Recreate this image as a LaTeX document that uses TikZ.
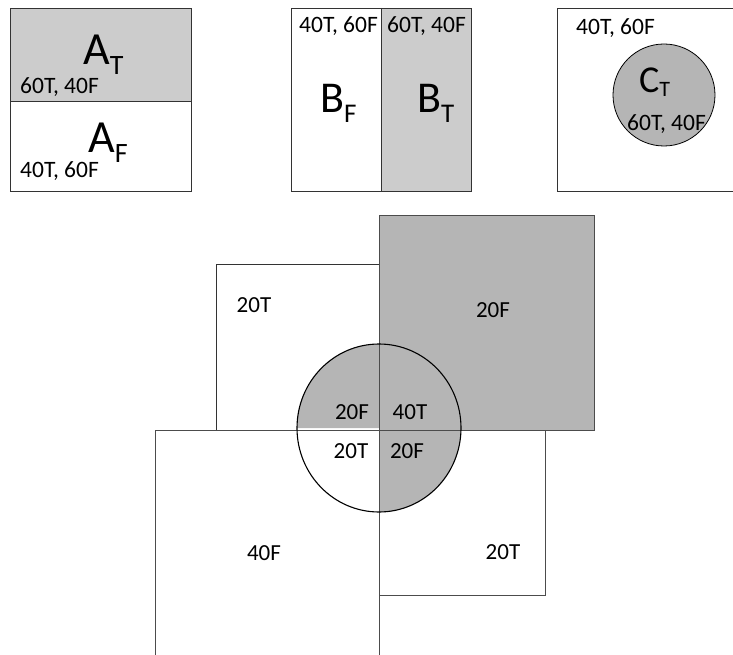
\documentclass[tikz,border=0pt]{standalone}
\usepackage{fontspec}
\setmainfont{Carlito}
\definecolor{lightshade}{HTML}{CCCCCC}
\definecolor{darkshade}{HTML}{B5B5B5}
\definecolor{edge}{HTML}{333333}
\tikzset{
  box/.style={draw=edge, line width=0.9pt},
  counts/.style={inner sep=0pt, font=\fontsize{23.5}{23.5}\selectfont},
  cell/.style={inner sep=0pt, font=\fontsize{23}{23}\selectfont},
  big/.style={inner sep=0pt, anchor=base west},
  ring/.style={draw=black, line width=1.1pt}
}
\newcommand{\varlab}[4]{{\fontsize{#1}{#1}\selectfont #3\raisebox{-#4pt}{\fontsize{#2}{#2}\selectfont T}}}
\newcommand{\varlabF}[4]{{\fontsize{#1}{#1}\selectfont #3\raisebox{-#4pt}{\fontsize{#2}{#2}\selectfont F}}}
\begin{document}
\begin{tikzpicture}[x=1pt,y=-1pt]
\useasboundingbox (0,0) rectangle (733,655);
\clip (0,0) rectangle (733,655);

% ---- variable A: split horizontally ----
\fill[lightshade] (10,8) rectangle (191,101);
\draw[box] (10,8) rectangle (191,191);
\draw[box] (10,101) -- (191,101);
\node[big] (at) at (83,65) {\varlab{46}{28}{A}{10}};
\node[counts, anchor=base west] (atc) at (20,94) {60T, 40F};
\node[big] (af) at (88,153) {\varlabF{46}{28}{A}{10}};
\node[counts, anchor=base west] (afc) at (20,178) {40T, 60F};

% ---- variable B: split vertically ----
\fill[lightshade] (381,8) rectangle (471,191);
\draw[box] (291,8) rectangle (471,191);
\draw[box] (381,8) -- (381,191);
\node[counts, anchor=base west] (bfc) at (299,33) {40T, 60F};
\node[counts, anchor=base west] (btc) at (387,33) {60T, 40F};
\node[big] (bf) at (320,113) {\varlabF{44}{27}{B}{10}};
\node[big] (bt) at (417,113) {\varlab{44}{27}{B}{10}};

% ---- variable C: disc inside a square ----
\draw[box] (557,8) rectangle (760,191);
\fill[darkshade, draw=black, line width=0.8pt] (664,95) circle (51);
\node[counts, anchor=base west] (cfc) at (576,35) {40T, 60F};
\node[big] (ct) at (639,93) {\varlab{38}{22}{C}{4}};
\node[counts, anchor=base west] (ctc) at (627,131) {60T, 40F};

% ---- combined diagram ----
\fill[darkshade] (379,215) rectangle (594,430);
% disc: upper half and lower-right quarter shaded (y axis points down)
\fill[darkshade] (297,428) arc[start angle=180, end angle=360, x radius=82, y radius=84] -- cycle;
\fill[darkshade] (379,428) -- (461,428) arc[start angle=0, end angle=90, x radius=82, y radius=84] -- cycle;

\draw[box] (216,264) rectangle (379,430);
\draw[box, draw=black!70] (379,215) rectangle (594,430);
\draw[box, draw=black!70] (155,700) -- (155,430) -- (379,430) -- (379,700);
\draw[box, draw=black!70] (379,430) rectangle (545,595);
\draw[ring] (379,428) ellipse[x radius=82, y radius=84];

\node[cell] (n1) at (254,305) {20T};
\node[cell] (n2) at (493,310) {20F};
\node[cell] (n3) at (352,412) {20F};
\node[cell] (n4) at (410,412) {40T};
\node[cell] (n5) at (351,451) {20T};
\node[cell] (n6) at (407,451) {20F};
\node[cell] (n7) at (503,552) {20T};
\node[cell] (n8) at (264,553) {40F};
\end{tikzpicture}
\end{document}
